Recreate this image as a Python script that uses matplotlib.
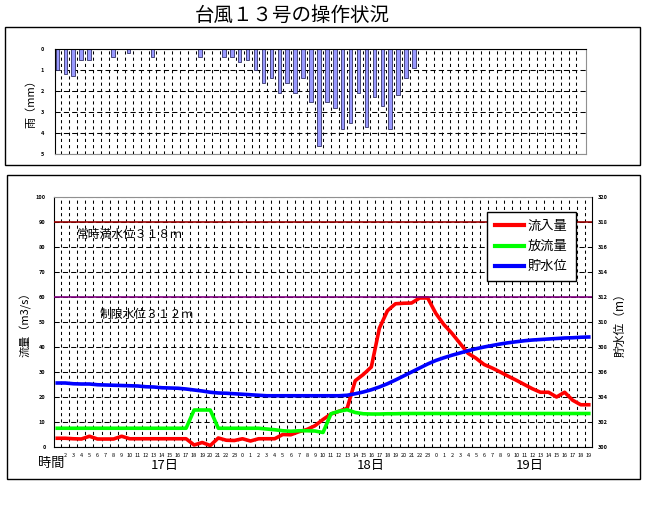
import numpy as np
import matplotlib
matplotlib.use("Agg")
import matplotlib.pyplot as plt
from matplotlib.patches import Rectangle
from matplotlib.lines import Line2D
import matplotlib.transforms as mtransforms

plt.rcParams["font.family"] = ["Noto Sans CJK JP", "DejaVu Sans"]

# -----------------------------
# Data (hourly, 17日 1時 -> 19日 19時)
# -----------------------------
hour_labels = ["1", "2", "3", "4", "5", "6", "7", "8", "9", "10", "11", "12",
               "13", "14", "15", "16", "17", "18", "19", "20", "21", "22", "23",
               "0", "1", "2", "3", "4", "5", "6", "7", "8", "9", "10", "11",
               "12", "13", "14", "15", "16", "17", "18", "19", "20", "21", "22",
               "23", "0", "1", "2", "3", "4", "5", "6", "7", "8", "9", "10",
               "11", "12", "13", "14", "15", "16", "17", "18", "19"]

day_labels = ["17日", "18日", "19日"]
day_label_pos = [13.4, 38.9, 58.7]

# rain (mm)
rain = [1.0, 1.2, 1.3, 0.5, 0.5, 0, 0, 0.4, 0, 0.2, 0, 0, 0.4, 0, 0, 0, 0, 0,
        0.4, 0, 0, 0.4, 0.4, 0.6, 0.5, 1.0, 1.6, 1.4, 2.1, 1.6, 2.1, 1.4, 2.5,
        4.6, 2.5, 2.8, 3.8, 3.5, 2.1, 3.7, 2.3, 2.7, 3.8, 2.2, 1.4, 0.9,
        0, 0, 0, 0, 0, 0, 0, 0, 0, 0, 0, 0, 0, 0, 0, 0, 0, 0, 0, 0, 0]

# inflow (m3/s)
inflow = [3.5, 3.5, 3.3, 3.2, 4.3, 3.2, 3.2, 3.2, 4.3, 3.3, 3.3, 3.3, 3.3, 3.3,
          3.3, 3.3, 3.3, 0.8, 1.8, 0.6, 3.6, 2.7, 2.6, 3.3, 2.4, 3.3, 3.3, 3.3,
          5.0, 4.9, 6.1, 7.0, 8.5, 11.0, 13.2, 14.3, 15.5, 26.5, 29.0, 32.0,
          47.5, 54.5, 57.3, 57.5, 57.6, 59.6, 59.6, 53.5, 49.0, 45.5, 41.5,
          37.5, 35.5, 33.0, 31.6, 30.0, 28.3, 26.7, 25.0, 23.3, 21.9, 21.9,
          20.0, 21.9, 18.7, 16.9, 16.9]

# outflow (m3/s)
outflow = [7.5, 7.5, 7.5, 7.5, 7.5, 7.5, 7.5, 7.5, 7.5, 7.5, 7.5, 7.5, 7.5,
           7.5, 7.5, 7.5, 7.5, 14.8, 14.8, 14.8, 7.5, 7.5, 7.5, 7.5, 7.5, 7.5,
           7.2, 6.9, 6.5, 6.3, 6.5, 6.5, 6.4, 5.8, 13.3, 14.3, 14.9, 13.8,
           13.3, 13.2, 13.2, 13.3, 13.3, 13.4, 13.4, 13.4, 13.4, 13.4, 13.4,
           13.4, 13.4, 13.4, 13.4, 13.4, 13.4, 13.4, 13.4, 13.4, 13.4, 13.4,
           13.4, 13.4, 13.4, 13.4, 13.4, 13.4, 13.4]

# reservoir level (m)
level = [305.12, 305.12, 305.06, 305.04, 305.04, 304.98, 304.96, 304.94,
         304.92, 304.90, 304.88, 304.82, 304.80, 304.74, 304.72, 304.70,
         304.64, 304.56, 304.48, 304.38, 304.32, 304.30, 304.26, 304.22,
         304.18, 304.14, 304.10, 304.10, 304.10, 304.10, 304.10, 304.10,
         304.10, 304.10, 304.10, 304.10, 304.14, 304.26, 304.40, 304.58,
         304.80, 305.06, 305.36, 305.68, 306.00, 306.32, 306.64, 306.92,
         307.14, 307.34, 307.52, 307.70, 307.86, 308.00, 308.12, 308.24,
         308.34, 308.42, 308.50, 308.56, 308.60, 308.64, 308.68, 308.72,
         308.74, 308.78, 308.80]

full_level = 318
limit_level = 312

x = np.arange(len(hour_labels))

# -----------------------------
# Figure layout (pixel based)
# -----------------------------
W, H = 649, 527
fig = plt.figure(figsize=(W / 100, H / 100), dpi=100)


def rect(l, t, r, b):
    return [l / W, 1 - b / H, (r - l) / W, (b - t) / H]


for (l, t, r, b) in [(5, 27, 640, 165), (7, 175, 640, 479)]:
    fig.patches.append(Rectangle((l / W, 1 - b / H), (r - l) / W, (b - t) / H,
                                 transform=fig.transFigure, fill=False,
                                 edgecolor="black", lw=1.0))

fig.text(292 / W, 1 - 15 / H, "台風１３号の操作状況", ha="center", va="center",
         fontsize=14)

# -----------------------------
# Rain chart (top)
# -----------------------------
ax1 = fig.add_axes(rect(55, 49, 586, 154))
ax1.set_axisbelow(True)
ax1.bar(x, rain, width=0.45, color="#9999FF", edgecolor="#333366", lw=0.6)
ax1.set_xlim(-0.3, 66.7)
ax1.set_ylim(5, 0)
ax1.set_yticks(range(6))
ax1.set_yticklabels([str(v) for v in range(6)], fontsize=4, fontweight="bold")
ax1.tick_params(axis="y", length=0, pad=8)
ax1.set_xticks([])
ax1.set_xticks(np.arange(0.5, 66.5, 1), minor=True)
ax1.tick_params(axis="x", which="both", length=0)
ax1.grid(axis="x", which="minor", color="black", lw=0.75, ls=(0, (3, 3)))
ax1.grid(axis="y", which="major", color="black", lw=0.75, ls=(0, (5, 3)))
ax1.spines["top"].set_color("black")
ax1.spines["left"].set_color("black")
ax1.spines["right"].set_color("#909090")
ax1.spines["bottom"].set_color("#909090")
ax1.set_ylabel("雨（mm）", fontsize=8, labelpad=3)

# -----------------------------
# Flow chart (bottom)
# -----------------------------
ax2 = fig.add_axes(rect(54, 197, 592, 447))
ax2.set_axisbelow(True)
ax2.plot(x, inflow, color="#FF0000", lw=2.6, solid_joinstyle="round")
ax2.plot(x, outflow, color="#00FF00", lw=2.6, solid_joinstyle="round")
ax2.set_xlim(-0.4, 66.4)
ax2.set_ylim(0, 100)
ax2.set_yticks(range(0, 101, 10))
ax2.set_yticklabels([str(v) for v in range(0, 101, 10)], fontsize=4,
                    fontweight="bold")
ax2.tick_params(axis="y", length=0, pad=6)
ax2.set_xticks(x[1:])
ax2.set_xticklabels(hour_labels[1:], fontsize=4)
ax2.set_xticks(np.arange(0.5, 66, 1), minor=True)
ax2.tick_params(axis="x", which="both", length=0, pad=4)
ax2.grid(axis="x", which="minor", color="black", lw=0.75, ls=(0, (3, 3)))
ax2.grid(axis="y", which="major", color="black", lw=0.75, ls=(0, (5, 3)))
ax2.spines["top"].set_color("#909090")
ax2.spines["right"].set_visible(False)
ax2.set_ylabel("流量（m3/s）", fontsize=8, labelpad=3)

ax3 = ax2.twinx()
ax3.axhline(full_level, color="#990000", lw=1.2)
ax3.axhline(limit_level, color="#800080", lw=1.2)
ax3.plot(x, level, color="#0000FF", lw=2.6, solid_joinstyle="round")
ax3.set_ylim(300, 320)
ax3.set_yticks(range(300, 321, 2))
ax3.set_yticklabels([str(v) for v in range(300, 321, 2)], fontsize=4,
                    fontweight="bold")
ax3.tick_params(axis="y", length=0, pad=4)
for s in ["top", "left", "bottom"]:
    ax3.spines[s].set_visible(False)
ax3.spines["right"].set_color("black")
ax3.set_ylabel("貯水位（m）", fontsize=8.5, labelpad=4)

ax2.text(2.4, 85, "常時満水位３１８ｍ", fontsize=8.5, va="center", ha="left")
ax2.text(5.3, 53, "制限水位３１２ｍ", fontsize=8.5, va="center", ha="left")

trans = mtransforms.blended_transform_factory(ax2.transData, ax2.transAxes)
for lbl, pos in zip(day_labels, day_label_pos):
    ax2.text(pos, -0.075, lbl, transform=trans, ha="center", va="center",
             fontsize=9.5)
ax2.text(-0.8, -0.068, "時間", transform=trans, ha="center", va="center",
         fontsize=9.5)

handles = [Line2D([], [], color="#FF0000", lw=3),
           Line2D([], [], color="#00FF00", lw=3),
           Line2D([], [], color="#0000FF", lw=3)]
leg = ax3.legend(handles, ["流入量", "放流量", "貯水位"], loc="upper left",
                 bbox_to_anchor=(487 / W, 1 - 212 / H),
                 bbox_transform=fig.transFigure, borderaxespad=0,
                 fancybox=False, framealpha=1, edgecolor="black",
                 fontsize=9.5, handlelength=2.2, handletextpad=0.3,
                 labelspacing=0.55, borderpad=0.6)
leg.get_frame().set_linewidth(1.0)

fig.savefig("out.png", dpi=100)
